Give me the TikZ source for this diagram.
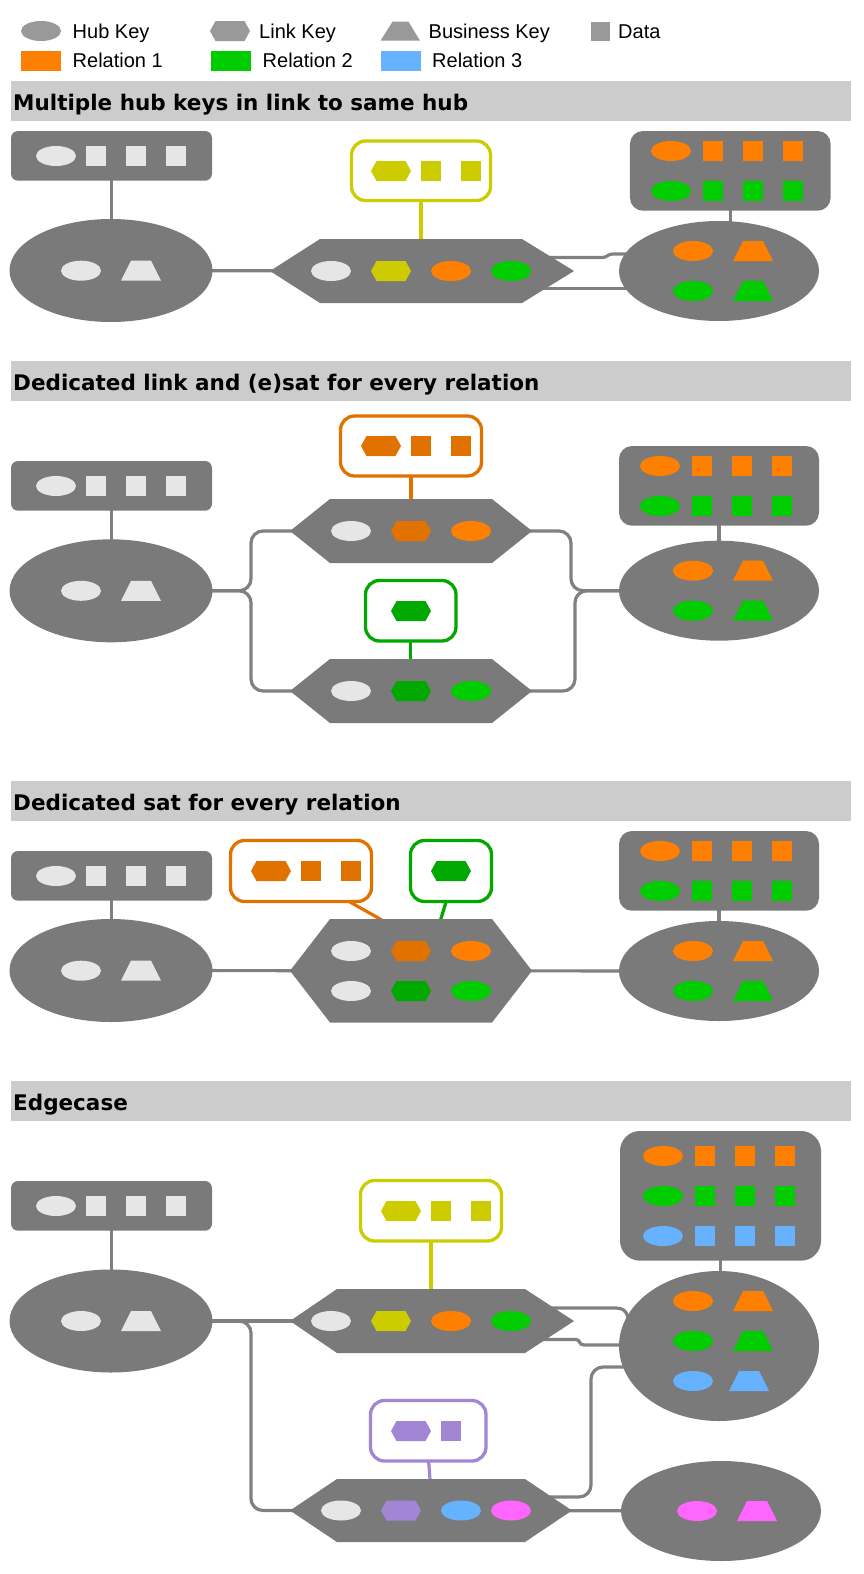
\documentclass[tikz,border=0pt]{standalone}
\usepackage{fontspec}
\setmainfont{Liberation Sans}
\newfontfamily\hdrfont{DejaVu Sans}
\usetikzlibrary{shapes.geometric,calc}
\definecolor{nodegray}{RGB}{122,122,122}
\definecolor{conngray}{RGB}{128,128,128}
\definecolor{light}{RGB}{230,230,230}
\definecolor{legendgray}{RGB}{153,153,153}
\definecolor{barfill}{RGB}{204,204,204}
\definecolor{rel1}{RGB}{255,128,0}
\definecolor{rel2}{RGB}{0,204,0}
\definecolor{rel3}{RGB}{102,178,255}
\definecolor{mag}{RGB}{255,102,255}
\definecolor{yel}{RGB}{204,204,0}
\definecolor{dorange}{RGB}{226,114,0}
\definecolor{dgreen}{RGB}{0,168,0}
\definecolor{purp}{RGB}{163,133,214}
\pgfdeclarelayer{back}
\pgfdeclarelayer{bg}
\pgfsetlayers{back,bg,main}
\tikzset{
  hub/.style={ellipse, fill=nodegray, inner sep=0pt},
  databox/.style={rectangle, fill=nodegray, inner sep=0pt},
  satbox/.style={rectangle, draw=#1, fill=white, line width=3.3pt, rounded corners=14pt, inner sep=0pt},
  conn/.style={draw=conngray, line width=3.2pt},
  satline/.style={draw=#1, line width=3.2pt},
  legtext/.style={anchor=base west, inner sep=0pt, font=\fontsize{20}{24}\selectfont},
  hdrtext/.style={anchor=base west, inner sep=0pt, font=\hdrfont\bfseries\fontsize{21.5}{26}\selectfont},
}
\newcommand\IconEll[3]{\fill[#3] (#1,#2) ellipse [x radius=20pt, y radius=10pt];}
\newcommand\IconHex[3]{\fill[#3] (#1,#2) +(-20,0) -- +(-14.5,-10) -- +(14.5,-10) -- +(20,0) -- +(14.5,10) -- +(-14.5,10) -- cycle;}
\newcommand\IconSq[3]{\fill[#3] (#1,#2) +(-10,-10) rectangle +(10,10);}
\newcommand\IconTrap[3]{\fill[#3] (#1,#2) +(-20,10) -- +(20,10) -- +(10,-10) -- +(-10,-10) -- cycle;}
\newcommand\DataRow[5]{\IconEll{#1}{#3}{#4}\IconSq{#2}{#3}{#5}\IconSq{#2+40}{#3}{#5}\IconSq{#2+80}{#3}{#5}}
\newcommand\LinkHex[7]{%
  \fill[nodegray] (#2,{(#6+#7)/2}) -- (#3,#6) -- (#4,#6) -- (#5,{(#6+#7)/2}) -- (#4,#7) -- (#3,#7) -- cycle;
  \coordinate (#1) at ({(#2+#5)/2},{(#6+#7)/2});}
\begin{document}
\begin{tikzpicture}[x=1pt,y=-1pt]
\useasboundingbox (0,0) rectangle (864,1574);
\begin{pgfonlayer}{back}\fill[white] (0,0) rectangle (864,1574);\end{pgfonlayer}

% ---------- legend ----------
\IconEll{41}{31}{legendgray}
\node[legtext] (lgHub) at (72.5,38.3) {Hub Key};
\IconHex{230}{31}{legendgray}
\node[legtext] (lgLink) at (259,38.3) {Link Key};
\fill[legendgray] (380.5,40.7) -- (420,40.7) -- (408.5,21.7) -- (392.5,21.7) -- cycle;
\node[legtext] (lgBK) at (428.5,38.3) {Business Key};
\fill[legendgray] (590.5,21.7) rectangle (610,40.7);
\node[legtext] (lgData) at (618,38.3) {Data};
\fill[rel1] (21,51) rectangle (61,70.7);
\node[legtext] (lgR1) at (72.5,67.7) {Relation 1};
\fill[rel2] (211,51) rectangle (251,70.7);
\node[legtext] (lgR2) at (262.5,67.7) {Relation 2};
\fill[rel3] (381,51) rectangle (420.5,70.7);
\node[legtext] (lgR3) at (432,67.7) {Relation 3};

% ---------- headers ----------
\fill[barfill] (11,81) rectangle (851,120.7);
\node[hdrtext] (hd1) at (13,110) {Multiple hub keys in link to same hub};
\fill[barfill] (11,361) rectangle (851,400.7);
\node[hdrtext] (hd2) at (13,390) {Dedicated link and (e)sat for every relation};
\fill[barfill] (11,781) rectangle (851,820.7);
\node[hdrtext] (hd3) at (13,810) {Dedicated sat for every relation};
\fill[barfill] (11,1081) rectangle (851,1120.7);
\node[hdrtext] (hd4) at (13,1110) {Edgecase};

% ---------- section 1 ----------
\node[databox, rounded corners=7pt, minimum width=201pt, minimum height=49.7pt] (d1L) at (111.5,155.85) {};
\node[hub, minimum width=203pt, minimum height=103pt] (h1L) at (111,270.5) {};
\LinkHex{l1}{270}{320}{522}{574}{239}{303}
\node[satbox=yel, minimum width=139pt, minimum height=59.5pt] (s1) at (421,170.75) {};
\node[databox, rounded corners=13pt, minimum width=200.7pt, minimum height=79.7pt] (d1R) at (730.3,170.85) {};
\node[hub, minimum width=200pt, minimum height=100pt] (h1R) at (719,271) {};
\DataRow{56}{96.3}{156}{light}{light}
\IconEll{81}{270.7}{light}\IconTrap{141}{270.7}{light}
\IconEll{331}{271}{light}\IconHex{391}{271}{yel}\IconEll{451}{271}{rel1}\IconEll{511}{271}{rel2}
\IconHex{391}{171}{yel}\IconSq{431}{171}{yel}\IconSq{471}{171}{yel}
\DataRow{671}{713}{151}{rel1}{rel1}
\DataRow{671}{713}{191}{rel2}{rel2}
\IconEll{693}{251}{rel1}\IconTrap{753}{251}{rel1}
\IconEll{693}{291}{rel2}\IconTrap{753}{291}{rel2}

% ---------- section 2 ----------
\node[databox, rounded corners=7pt, minimum width=201pt, minimum height=49.7pt] (d2L) at (111.5,485.85) {};
\node[hub, minimum width=203pt, minimum height=103pt] (h2L) at (111,590.8) {};
\LinkHex{l2a}{290}{330}{492}{532}{499}{563}
\LinkHex{l2b}{290}{330}{492}{532}{659}{723}
\node[satbox=dorange, minimum width=141pt, minimum height=60pt] (s2o) at (411,446) {};
\node[satbox=dgreen, minimum width=90.5pt, minimum height=60.5pt] (s2g) at (410.75,610.75) {};
\node[databox, rounded corners=13pt, minimum width=200pt, minimum height=79.7pt] (d2R) at (719,485.85) {};
\node[hub, minimum width=200pt, minimum height=100pt] (h2R) at (719,590.7) {};
\DataRow{56}{96.3}{486}{light}{light}
\IconEll{81}{590.8}{light}\IconTrap{141}{590.8}{light}
\IconEll{351}{531}{light}\IconHex{411}{531}{dorange}\IconEll{471}{531}{rel1}
\IconHex{381}{446}{dorange}\IconSq{421}{446}{dorange}\IconSq{461}{446}{dorange}
\IconEll{351}{691}{light}\IconHex{411}{691}{dgreen}\IconEll{471}{691}{rel2}
\IconHex{411}{611}{dgreen}
\DataRow{660}{702}{466}{rel1}{rel1}
\DataRow{660}{702}{506}{rel2}{rel2}
\IconEll{693}{570.7}{rel1}\IconTrap{753}{570.7}{rel1}
\IconEll{693}{610.7}{rel2}\IconTrap{753}{610.7}{rel2}

% ---------- section 3 ----------
\node[databox, rounded corners=7pt, minimum width=201pt, minimum height=49.7pt] (d3L) at (111.5,875.85) {};
\node[hub, minimum width=203pt, minimum height=103pt] (h3L) at (111,970.5) {};
\LinkHex{l3}{290}{330}{492}{532}{919}{1022.5}
\node[satbox=dorange, minimum width=141pt, minimum height=61pt] (s3o) at (301,871) {};
\node[satbox=dgreen, minimum width=81pt, minimum height=61pt] (s3g) at (451,871) {};
\node[databox, rounded corners=13pt, minimum width=200pt, minimum height=79.7pt] (d3R) at (719,870.85) {};
\node[hub, minimum width=200pt, minimum height=100pt] (h3R) at (719,971) {};
\DataRow{56}{96.3}{876}{light}{light}
\IconEll{81}{970.7}{light}\IconTrap{141}{970.7}{light}
\IconEll{351}{951}{light}\IconHex{411}{951}{dorange}\IconEll{471}{951}{rel1}
\IconEll{351}{991}{light}\IconHex{411}{991}{dgreen}\IconEll{471}{991}{rel2}
\IconHex{271}{871}{dorange}\IconSq{311}{871}{dorange}\IconSq{351}{871}{dorange}
\IconHex{451}{871}{dgreen}
\DataRow{660}{702}{851}{rel1}{rel1}
\DataRow{660}{702}{891}{rel2}{rel2}
\IconEll{693}{951}{rel1}\IconTrap{753}{951}{rel1}
\IconEll{693}{991}{rel2}\IconTrap{753}{991}{rel2}

% ---------- section 4 ----------
\node[databox, rounded corners=7pt, minimum width=201pt, minimum height=49.7pt] (d4L) at (111.5,1205.85) {};
\node[hub, minimum width=203pt, minimum height=103pt] (h4L) at (111,1321) {};
\LinkHex{l4a}{290}{337}{525}{574}{1289}{1353}
\LinkHex{l4b}{290}{337}{525}{572}{1479}{1542}
\node[satbox=yel, minimum width=141pt, minimum height=60.5pt] (s4y) at (431,1210.75) {};
\node[satbox=purp, minimum width=115.5pt, minimum height=60.5pt] (s4p) at (428.25,1430.75) {};
\node[databox, rounded corners=20pt, minimum width=201pt, minimum height=129.7pt] (d4R) at (720.5,1195.85) {};
\node[hub, minimum width=200pt, minimum height=150pt] (h4R) at (719,1346) {};
\node[hub, minimum width=200pt, minimum height=100pt] (h4B) at (721,1511) {};
\DataRow{56}{96.3}{1206}{light}{light}
\IconEll{81}{1321}{light}\IconTrap{141}{1321}{light}
\IconEll{331}{1321}{light}\IconHex{391}{1321}{yel}\IconEll{451}{1321}{rel1}\IconEll{511}{1321}{rel2}
\IconHex{401}{1211}{yel}\IconSq{441}{1211}{yel}\IconSq{481}{1211}{yel}
\IconEll{341}{1510.5}{light}\IconHex{401}{1510.5}{purp}\IconEll{461}{1510.5}{rel3}\IconEll{511}{1510.5}{mag}
\IconHex{411}{1431}{purp}\IconSq{451}{1431}{purp}
\DataRow{663}{705}{1156}{rel1}{rel1}
\DataRow{663}{705}{1196}{rel2}{rel2}
\DataRow{663}{705}{1236}{rel3}{rel3}
\IconEll{693}{1301}{rel1}\IconTrap{753}{1301}{rel1}
\IconEll{693}{1341}{rel2}\IconTrap{753}{1341}{rel2}
\IconEll{693}{1381}{rel3}\IconTrap{749}{1381}{rel3}
\IconEll{697}{1511}{mag}\IconTrap{757}{1511}{mag}

% ---------- connectors ----------
\begin{pgfonlayer}{bg}
% section 1
\draw[conn] (d1L.center) -- (d1L.center |- h1L.center);
\draw[conn] (h1L.center) -- (l1);
\draw[satline=yel] (s1.center) -- (s1.center |- l1);
\draw[conn] (l1 |- 0,257.5) -- (602,257.5) .. controls (608,257.5) and (607,254) .. (613,254) -- (h1R.center |- 0,254);
\draw[conn] (l1 |- 0,288.5) -- (h1R.center |- 0,288.5);
\draw[conn] (d1R.center) -- (d1R.center |- h1R.center);
% section 2
\draw[conn] (d2L.center) -- (d2L.center |- h2L.center);
\draw[conn, rounded corners=12pt] (h2L.center) -- (251,590.8) -- (251,531) -- (l2a);
\draw[conn, rounded corners=12pt] (h2L.center) -- (251,590.8) -- (251,691) -- (l2b);
\draw[conn, rounded corners=12pt] (l2a) -- (571,531) -- (571,590.7) -- (h2R.center);
\draw[conn, rounded corners=12pt] (l2b) -- (575,691) -- (575,590.7) -- (h2R.center);
\draw[satline=dorange] (s2o.center) -- (s2o.center |- l2a);
\draw[satline=dgreen] (s2g.center) -- (s2g.center |- l2b);
\draw[conn] (d2R.center) -- (d2R.center |- h2R.center);
% section 3
\draw[conn] (d3L.center) -- (d3L.center |- h3L.center);
\draw[conn] (h3L.center) -- (l3);
\draw[conn] (l3) -- (h3R.center);
\draw[satline=dorange] ($(s3o.center)+(37,24.2)$) -- ($(l3)+(-19,-45)$);
\draw[satline=dgreen] ($(s3g.center)+(-3.4,25.9)$) -- ($(l3)+(28,-45.75)$);
\draw[conn] (d3R.center) -- (d3R.center |- h3R.center);
% section 4
\draw[conn] (d4L.center) -- (d4L.center |- h4L.center);
\draw[conn] (h4L.center) -- (l4a);
\draw[conn, rounded corners=12pt] (h4L.center) -- (251,1321) -- (251,1510.5) -- (l4b);
\draw[satline=yel] (s4y.center) -- (s4y.center |- l4a);
\draw[satline=purp] ($(s4p.center)+(0,25)$) -- ($(l4b)+(-0.6,-25.5)$);
\draw[conn] (l4a |- 0,1308) -- (616,1308) .. controls (623,1308) and (626,1311) .. (628,1317) -- (h4R.center);
\draw[conn] (l4a |- 0,1339.5) -- (576,1339.5) .. controls (580.5,1339.5) and (578.5,1345) .. (584,1345) -- (h4R.center |- 0,1345);
\draw[conn, rounded corners=12pt] (l4b |- 0,1497) -- (591,1497) -- (591,1367) -- (h4R.center |- 0,1367);
\draw[conn] (l4b) -- (h4B.center);
\draw[conn] (d4R.center) -- (d4R.center |- h4R.center);
\end{pgfonlayer}
\end{tikzpicture}
\end{document}
